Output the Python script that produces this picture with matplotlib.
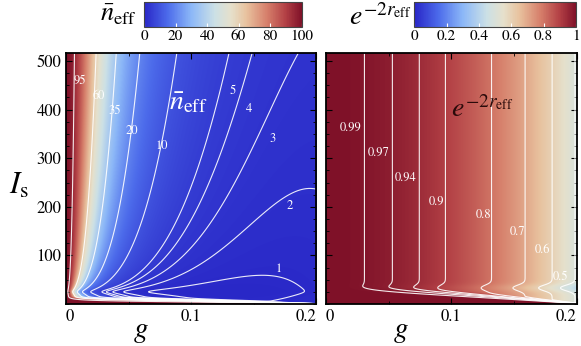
import numpy as np
import matplotlib
matplotlib.use('Agg')
import matplotlib.pyplot as plt
from matplotlib.colors import LinearSegmentedColormap
from matplotlib.ticker import MultipleLocator

plt.rcParams['font.family'] = ['STIXGeneral', 'DejaVu Serif']
plt.rcParams['mathtext.fontset'] = 'stix'

# axes ranges / ticks
g_max = 0.2
I_max = 516
g_ticks = [0, 0.1, 0.2]
g_ticklabels = ['0', '0.1', '0.2']
I_ticks = [100, 200, 300, 400, 500]

# contour levels and where their labels sit
n_levels = [1, 2, 3, 4, 5, 10, 20, 35, 60, 95]
n_label_g = [0.170, 0.179, 0.165, 0.146, 0.133, 0.077, 0.053, 0.039, 0.026, 0.011]
n_label_I = [71, 202, 339, 401, 439, 324, 355, 396, 427, 459]

s_levels = [0.5, 0.6, 0.7, 0.8, 0.9, 0.94, 0.97, 0.99]
s_labels = ['0.5', '0.6', '0.7', '0.8', '0.9', '0.94', '0.97', '0.99']
s_label_g = [0.187, 0.173, 0.153, 0.126, 0.088, 0.064, 0.042, 0.020]
s_label_I = [55, 110, 147, 183, 210, 260, 311, 363]

cb_n_ticks = [0, 20, 40, 60, 80, 100]
cb_s_ticks = [0, 0.2, 0.4, 0.6, 0.8, 1]
cb_s_ticklabels = ['0', '0.2', '0.4', '0.6', '0.8', '1']

# model parameters of the two surfaces
n_th = 100.0          # bath occupation at g = 0
A_cool = 54600.0      # cooling strength
I_res, w_res, p_res = 25.0, 4.0, 0.623
D_heat, D_low, I_low = 455.0, 400.0, 40.0   # g^4 heating
Ith_n, Ith_s, g_c = 13.3, 31.0, 0.206
a_sq, b_sq = 10.5, 55.0

cmap = LinearSegmentedColormap.from_list('thermo', [
    (0.00, (0.16, 0.15, 0.78)),
    (0.15, (0.30, 0.42, 0.92)),
    (0.30, (0.55, 0.72, 0.97)),
    (0.45, (0.80, 0.88, 0.90)),
    (0.55, (0.90, 0.88, 0.80)),
    (0.65, (0.91, 0.76, 0.62)),
    (0.78, (0.84, 0.50, 0.42)),
    (0.90, (0.70, 0.25, 0.27)),
    (1.00, (0.50, 0.07, 0.16)),
])

g = np.linspace(0, g_max, 500)
I = np.linspace(0, I_max, 1200)
G, II = np.meshgrid(g, I)

thr_n = Ith_n * (1 - (G / g_c) ** 2)
T_n = 1 - np.exp(-(II / thr_n) ** 8)
C = A_cool / ((II - I_res) ** 2 + w_res ** 2) ** (p_res / 2) * T_n
D = D_heat + D_low * np.exp(-II / I_low)
n_eff = np.clip(n_th / (1 + C * G ** 2) + D * G ** 4, 0, 100)

thr_s = Ith_s * (1 - (G / g_c) ** 2)
T_s = (1 - np.exp(-(II / np.maximum(thr_s, 1e-6)) ** 7)) * (1 + 0.15 * np.exp(-((II - 33) / 8) ** 2))
S = np.clip(1 - (a_sq * G ** 2 + b_sq * G ** 4) * T_s, 0, 1)

fig = plt.figure(figsize=(5.81, 3.46), dpi=100)
ax1 = fig.add_axes([0.1136, 0.1214, 0.4303, 0.7246])
ax2 = fig.add_axes([0.5608, 0.1214, 0.4318, 0.7246])

im1 = ax1.imshow(n_eff, origin='lower', extent=[0, g_max, 0, I_max], aspect='auto',
                 cmap=cmap, vmin=0, vmax=100, interpolation='bilinear')
ax1.contour(g, I, n_eff, levels=n_levels, colors='white', linewidths=0.8, alpha=0.9)
for lv, x, y in zip(n_levels, n_label_g, n_label_I):
    ax1.text(x, y, str(lv), color='white', fontsize=9, ha='center', va='center')
ax1.text(0.098, 414, r'$\bar{n}_{\rm eff}$', color='white', fontsize=20, ha='center', va='center')

im2 = ax2.imshow(S, origin='lower', extent=[0, g_max, 0, I_max], aspect='auto',
                 cmap=cmap, vmin=0, vmax=1, interpolation='bilinear')
ax2.contour(g, I, S, levels=s_levels, colors='white', linewidths=0.8, alpha=0.9)
for lab, x, y in zip(s_labels, s_label_g, s_label_I):
    ax2.text(x, y, lab, color='white', fontsize=9, ha='center', va='center')
ax2.text(0.125, 400, r'$e^{-2r_{\rm eff}}$', color='#2a0a0a', fontsize=20, ha='center', va='center')

for ax in (ax1, ax2):
    ax.set_xlim(0, g_max)
    ax.set_ylim(0, I_max)
    ax.set_xticks(g_ticks)
    ax.set_xticklabels(g_ticklabels, fontsize=12)
    labs = ax.get_xticklabels()
    labs[0].set_ha('left')
    labs[-1].set_ha('right')
    ax.xaxis.set_minor_locator(MultipleLocator(0.05))
    ax.set_yticks(I_ticks)
    ax.yaxis.set_minor_locator(MultipleLocator(25))
    ax.tick_params(which='both', direction='in', top=True, right=True, color='black')
    ax.tick_params(which='major', length=4, width=0.8)
    ax.tick_params(which='minor', length=2.5, width=0.6)
    for sp in ax.spines.values():
        sp.set_linewidth(1.3)
    ax.set_xlabel(r'$g$', fontsize=21, labelpad=0)
    ax.xaxis.set_label_coords(0.3, -0.065)

ax1.set_yticklabels([str(t) for t in I_ticks], fontsize=12)
ax2.set_yticklabels([])
ax1.set_ylabel(r'$I_{\rm s}$', fontsize=22, rotation=0, va='center')
ax1.yaxis.set_label_coords(-0.19, 0.47)

cax1 = fig.add_axes([0.2478, 0.9228, 0.2714, 0.0723])
cb1 = fig.colorbar(im1, cax=cax1, orientation='horizontal', ticks=cb_n_ticks)
cax2 = fig.add_axes([0.7131, 0.9228, 0.2783, 0.0723])
cb2 = fig.colorbar(im2, cax=cax2, orientation='horizontal', ticks=cb_s_ticks)
cb2.set_ticklabels(cb_s_ticklabels)
for cb in (cb1, cb2):
    cb.outline.set_linewidth(0.8)
    cb.outline.set_edgecolor('#444444')
    cb.ax.tick_params(labelsize=11, direction='in', color='white', length=3, pad=2)
fig.text(0.236, 0.955, r'$\bar{n}_{\rm eff}$', fontsize=19, ha='right', va='center')
fig.text(0.708, 0.95, r'$e^{-2r_{\rm eff}}$', fontsize=20, ha='right', va='center')

fig.savefig('out.png', dpi=100)
